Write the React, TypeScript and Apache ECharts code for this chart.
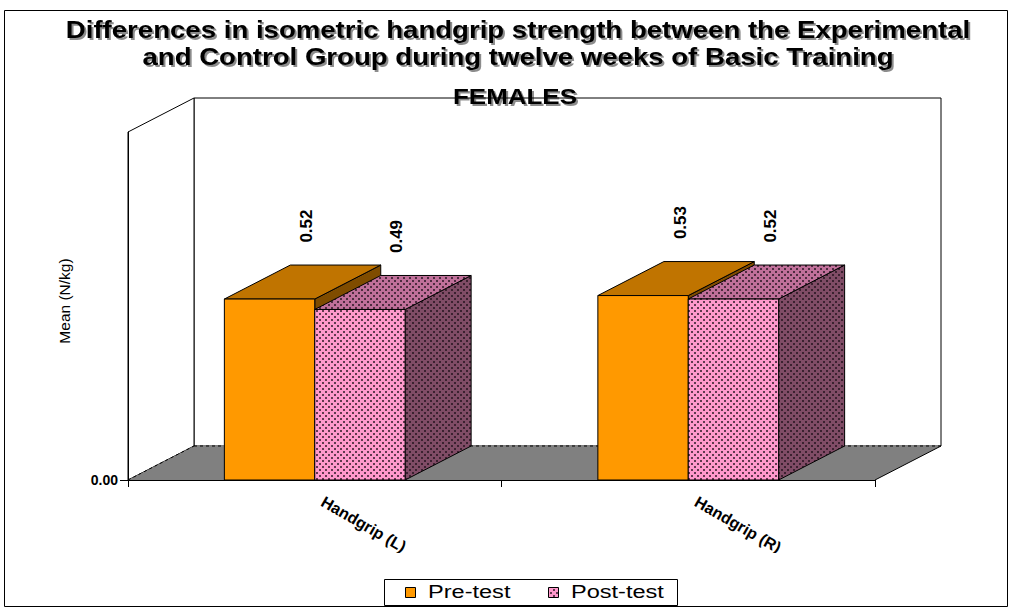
import React, { useEffect, useRef } from 'react';
import * as echarts from 'echarts';

// ---- chart data ----
const categories = ['Handgrip (L)', 'Handgrip (R)'];
const seriesNames = ['Pre-test', 'Post-test'];
const preTest = [0.52, 0.53];
const postTest = [0.49, 0.52];
const valueTicks = [0];
const titleLines = [
  'Differences in isometric handgrip strength between the Experimental',
  'and Control Group during twelve weeks of Basic Training',
];
const subTitle = 'FEMALES';
const yAxisTitle = 'Mean (N/kg)';

// ---- look ----
const FONT = '"Liberation Sans", Arial, sans-serif';
const DX = 66; // depth offset of the 3-D box, x
const DY = -34; // depth offset of the 3-D box, y
const BAR_RATIO = 0.242; // one bar's share of a category band
const LABEL_RAISE = 56;

const ORANGE = { front: '#FF9900', top: '#C07400', side: '#7F4C00' };

function dotPattern(base: string) {
  const c = document.createElement('canvas');
  c.width = 6;
  c.height = 6;
  const g = c.getContext('2d')!;
  g.fillStyle = base;
  g.fillRect(0, 0, 6, 6);
  g.fillStyle = 'rgba(30,15,25,0.7)';
  g.fillRect(1, 1, 2, 2);
  g.fillRect(4, 4, 2, 2);
  return { image: c.toDataURL(), repeat: 'repeat', imageWidth: 6, imageHeight: 6 } as any;
}

function box(xl: number, xr: number, yt: number, yb: number, colors: any) {
  const stroke = '#000';
  return [
    {
      type: 'polygon',
      shape: { points: [[xr, yt], [xr + DX, yt + DY], [xr + DX, yb + DY], [xr, yb]] },
      style: { fill: colors.side, stroke, lineWidth: 1 },
    },
    {
      type: 'polygon',
      shape: { points: [[xl, yt], [xr, yt], [xr + DX, yt + DY], [xl + DX, yt + DY]] },
      style: { fill: colors.top, stroke, lineWidth: 1 },
    },
    {
      type: 'rect',
      shape: { x: xl, y: yt, width: xr - xl, height: yb - yt },
      style: { fill: colors.front, stroke, lineWidth: 1 },
    },
  ];
}

function barRenderer(slot: number, colors: any) {
  return (params: any, api: any) => {
    const cat = api.value(0);
    const v = api.value(1);
    const [cx, yt] = api.coord([cat, v]);
    const [, yb] = api.coord([cat, 0]);
    const band = api.size([1, 0])[0];
    const w = band * BAR_RATIO;
    const xl = cx - w + slot * w;
    const xr = xl + w;
    const label = {
      type: 'text',
      x: (xl + xr) / 2 + DX / 2 + 4,
      y: yt + DY / 2 - LABEL_RAISE,
      rotation: Math.PI / 2,
      style: {
        text: Number(v).toFixed(2),
        font: `bold 17px ${FONT}`,
        fill: '#000',
        align: 'center',
        verticalAlign: 'middle',
        textAlign: 'center',
        textVerticalAlign: 'middle',
      },
    };
    return { type: 'group', children: [...box(xl, xr, yt, yb, colors), label] };
  };
}

function wallsRenderer(params: any) {
  const cs = params.coordSys;
  const x0 = cs.x;
  const y0 = cs.y;
  const w = cs.width;
  const h = cs.height;
  const yb = y0 + h;
  const black = { stroke: '#000', lineWidth: 1 };
  return {
    type: 'group',
    children: [
      {
        type: 'rect',
        shape: { x: x0 + DX, y: y0 + DY, width: w, height: h },
        style: { fill: '#fff', ...black },
      },
      {
        type: 'polygon',
        shape: { points: [[x0, y0], [x0 + DX, y0 + DY], [x0 + DX, yb + DY], [x0, yb]] },
        style: { fill: '#fff', ...black },
      },
      {
        type: 'polygon',
        shape: { points: [[x0, yb], [x0 + w, yb], [x0 + w + DX, yb + DY], [x0 + DX, yb + DY]] },
        style: { fill: '#808080', stroke: 'none' },
      },
      {
        type: 'line',
        shape: { x1: x0 + w, y1: yb, x2: x0 + w + DX, y2: yb + DY },
        style: { ...black },
      },
      {
        type: 'line',
        shape: { x1: x0 + DX, y1: yb + DY, x2: x0 + w + DX, y2: yb + DY },
        style: { ...black, lineDash: [3, 3] },
      },
      {
        type: 'line',
        shape: { x1: x0, y1: yb, x2: x0 + DX, y2: yb + DY },
        style: { ...black, lineDash: [3, 3] },
      },
    ],
  };
}

export default function App() {
  const ref = useRef<HTMLDivElement>(null);

  useEffect(() => {
    if (!ref.current) return;
    const chart = echarts.init(ref.current, undefined, { renderer: 'svg' });
    const PINK = {
      front: dotPattern('#FF99CC'),
      top: dotPattern('#C0709A'),
      side: dotPattern('#804C66'),
    };
    const shadow = {
      textShadowColor: 'rgba(0,0,0,0.45)',
      textShadowOffsetX: 2,
      textShadowOffsetY: 2,
      textShadowBlur: 1,
    };

    chart.setOption({
      animation: false,
      backgroundColor: '#fff',
      grid: { left: 128, right: 135, top: 132, bottom: 128 },
      xAxis: {
        type: 'category',
        data: categories,
        z: 10,
        axisLine: { show: true, lineStyle: { color: '#000', width: 1 } },
        axisTick: { show: true, length: 7, lineStyle: { color: '#000' } },
        axisLabel: {
          interval: 0,
          rotate: -30,
          margin: 16,
          padding: [0, 0, 0, 9],
          color: '#000',
          fontSize: 16,
          fontWeight: 'bold',
          fontFamily: FONT,
        },
      },
      yAxis: {
        type: 'value',
        min: 0,
        max: 1,
        interval: 1,
        z: 10,
        splitLine: { show: false },
        axisLine: { show: true, lineStyle: { color: '#000', width: 1 } },
        axisTick: { show: true, length: 8, customValues: valueTicks, lineStyle: { color: '#000' } },
        axisLabel: {
          customValues: valueTicks,
          formatter: (v: number) => (v === 0 ? v.toFixed(2) : ''),
          margin: 10,
          color: '#000',
          fontSize: 14,
          fontWeight: 'bold',
          fontFamily: FONT,
        },
      },
      series: [
        {
          type: 'custom',
          name: 'walls',
          clip: false,
          silent: true,
          z: 1,
          renderItem: wallsRenderer,
          data: [[0, 0]],
        },
        {
          type: 'custom',
          name: seriesNames[0],
          clip: false,
          z: 2,
          renderItem: barRenderer(0, ORANGE),
          data: categories.map((_, i) => [i, preTest[i]]),
        },
        {
          type: 'custom',
          name: seriesNames[1],
          clip: false,
          z: 3,
          renderItem: barRenderer(1, PINK),
          data: categories.map((_, i) => [i, postTest[i]]),
        },
      ],
      graphic: [
        {
          type: 'rect',
          z: -10,
          shape: { x: 4.5, y: 10.5, width: 1003, height: 596 },
          style: { fill: 'none', stroke: '#000', lineWidth: 1 },
        },
        // axis labels are cut off at the plot-area's lower edge
        {
          type: 'rect',
          z: 50,
          shape: { x: 260, y: 553, width: 600, height: 24 },
          style: { fill: '#fff' },
        },
        {
          type: 'text',
          z: 60,
          x: 518,
          y: 30,
          scaleX: 1.2,
          style: {
            text: titleLines[0],
            font: `bold 23px ${FONT}`,
            fill: '#000',
            align: 'center',
            verticalAlign: 'middle',
            textAlign: 'center',
            textVerticalAlign: 'middle',
            ...shadow,
          },
        },
        {
          type: 'text',
          z: 60,
          x: 518,
          y: 57,
          scaleX: 1.2,
          style: {
            text: titleLines[1],
            font: `bold 23px ${FONT}`,
            fill: '#000',
            align: 'center',
            verticalAlign: 'middle',
            textAlign: 'center',
            textVerticalAlign: 'middle',
            ...shadow,
          },
        },
        {
          type: 'text',
          z: 60,
          x: 515,
          y: 96,
          scaleX: 1.18,
          style: {
            text: subTitle,
            font: `bold 22px ${FONT}`,
            fill: '#000',
            align: 'center',
            verticalAlign: 'middle',
            textAlign: 'center',
            textVerticalAlign: 'middle',
            ...shadow,
          },
        },
        {
          type: 'text',
          z: 60,
          x: 64,
          y: 301,
          rotation: Math.PI / 2,
          style: {
            text: yAxisTitle,
            font: `15.5px ${FONT}`,
            fill: '#000',
            align: 'center',
            verticalAlign: 'middle',
            textAlign: 'center',
            textVerticalAlign: 'middle',
          },
        },
        // legend
        {
          type: 'rect',
          z: 60,
          shape: { x: 384.5, y: 579.5, width: 293, height: 26 },
          style: { fill: '#fff', stroke: '#000', lineWidth: 1 },
        },
        {
          type: 'rect',
          z: 61,
          shape: { x: 405.5, y: 587.5, width: 10, height: 10 },
          style: { fill: ORANGE.front, stroke: '#000', lineWidth: 1 },
        },
        {
          type: 'text',
          z: 61,
          x: 428,
          y: 591.5,
          scaleX: 1.24,
          style: {
            text: seriesNames[0],
            font: `19px ${FONT}`,
            fill: '#000',
            align: 'left',
            verticalAlign: 'middle',
            textAlign: 'left',
            textVerticalAlign: 'middle',
          },
        },
        {
          type: 'rect',
          z: 61,
          shape: { x: 548.5, y: 587.5, width: 10, height: 10 },
          style: { fill: PINK.front, stroke: '#000', lineWidth: 1 },
        },
        {
          type: 'text',
          z: 61,
          x: 571,
          y: 591.5,
          scaleX: 1.24,
          style: {
            text: seriesNames[1],
            font: `19px ${FONT}`,
            fill: '#000',
            align: 'left',
            verticalAlign: 'middle',
            textAlign: 'left',
            textVerticalAlign: 'middle',
          },
        },
      ],
    });

    return () => chart.dispose();
  }, []);

  return (
    <div
      ref={ref}
      style={{ position: 'fixed', left: 0, top: 0, width: 1010, height: 608, background: '#fff' }}
    />
  );
}
